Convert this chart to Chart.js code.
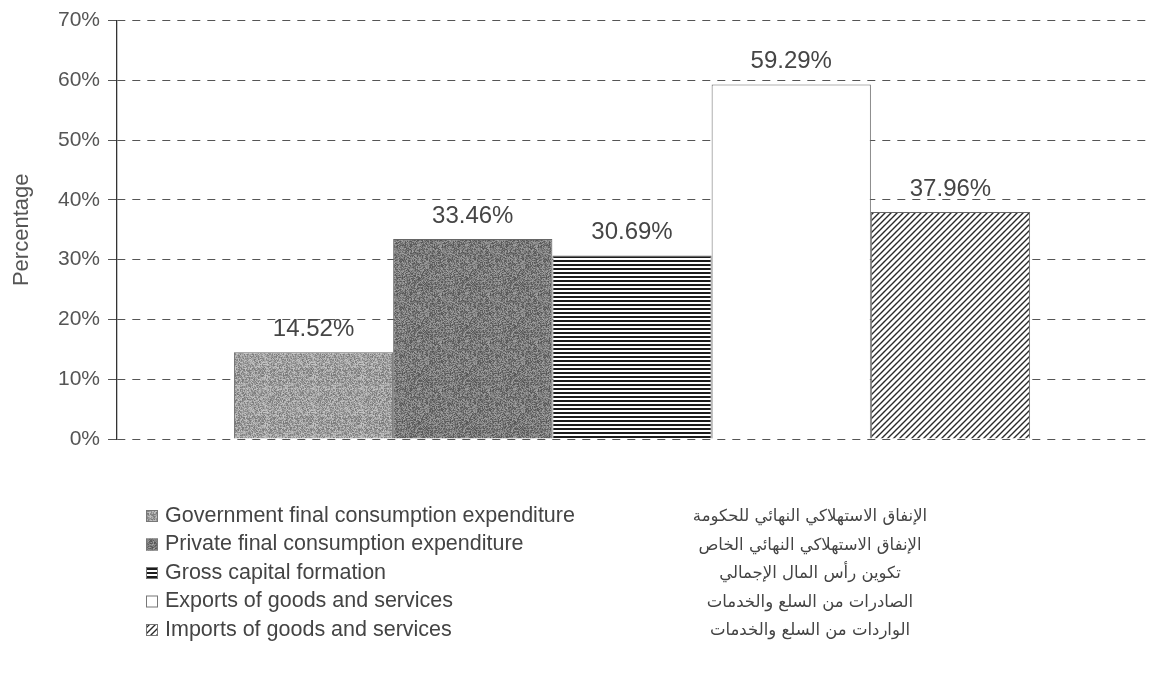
<!DOCTYPE html>
<html>
<head>
<meta charset="utf-8">
<script src="https://cdn.jsdelivr.net/npm/chart.js@4.4.1/dist/chart.umd.min.js"></script>
<style>
  html, body { margin: 0; padding: 0; background: #fff; }
  #wrap { width: 1149px; height: 679px; }
</style>
</head>
<body>
<div id="wrap"><canvas id="chart" width="1149" height="679"></canvas></div>
<script>
// one category, five series (shares of GDP)
const categories = [""];
const seriesNames = [
  "Government final consumption expenditure",
  "Private final consumption expenditure",
  "Gross capital formation",
  "Exports of goods and services",
  "Imports of goods and services"
];
const seriesNamesAr = [
  "الإنفاق الاستهلاكي النهائي للحكومة",
  "الإنفاق الاستهلاكي النهائي الخاص",
  "تكوين رأس المال الإجمالي",
  "الصادرات من السلع والخدمات",
  "الواردات من السلع والخدمات"
];
const seriesValues = [14.52, 33.46, 30.69, 59.29, 37.96];
const yTickValues = [0, 10, 20, 30, 40, 50, 60, 70];

const canvas = document.getElementById("chart");
const ctx = canvas.getContext("2d");

// ---- fill patterns ----
function tile(size, draw) {
  const c = document.createElement("canvas");
  c.width = c.height = size;
  draw(c.getContext("2d"), size);
  return ctx.createPattern(c, "repeat");
}
function grain(base, spread, seed) {
  return tile(48, (g, s) => {
    const img = g.createImageData(s, s);
    for (let i = 0; i < s * s; i++) {
      let h = Math.imul(i + seed * 7919, 2654435761) >>> 0;
      h ^= h >>> 15; h = Math.imul(h, 2246822519) >>> 0; h ^= h >>> 13;
      const v = base + ((h & 255) / 255 - 0.5) * spread;
      img.data[i * 4] = img.data[i * 4 + 1] = img.data[i * 4 + 2] = v;
      img.data[i * 4 + 3] = 255;
    }
    g.putImageData(img, 0, 0);
  });
}
const stripes = tile(4, (g, s) => {
  g.fillStyle = "#fff"; g.fillRect(0, 0, s, s);
  g.fillStyle = "#1c1c1c"; g.fillRect(0, 0, s, 2);
});
const hatch = tile(6, (g, s) => {
  g.fillStyle = "#fff"; g.fillRect(0, 0, s, s);
  g.strokeStyle = "#2a2a2a"; g.lineWidth = 1.4;
  g.beginPath();
  g.moveTo(0, s); g.lineTo(s, 0);
  g.moveTo(-1, 1); g.lineTo(1, -1);
  g.moveTo(s - 1, s + 1); g.lineTo(s + 1, s - 1);
  g.stroke();
});
const fills = [grain(158, 80, 1), grain(122, 80, 2), stripes, "#ffffff", hatch];

const valueLabels = {
  id: "valueLabels",
  afterDatasetsDraw(chart) {
    const c = chart.ctx;
    c.save();
    c.font = "24px 'Liberation Sans', Arial, sans-serif";
    c.fillStyle = "#454545";
    c.textAlign = "center";
    c.textBaseline = "middle";
    chart.data.datasets.forEach((ds, i) => {
      const bar = chart.getDatasetMeta(i).data[0];
      c.fillText(ds.data[0].toFixed(2) + "%", bar.x, bar.y - 23);
    });
    c.restore();
  }
};

const twoColumnLegend = {
  id: "twoColumnLegend",
  afterDraw(chart) {
    const c = chart.ctx;
    c.save();
    chart.data.datasets.forEach((ds, i) => {
      const y = 516 + i * 28.5;
      c.fillStyle = ds.backgroundColor;
      c.fillRect(146, y - 6, 12, 12);
      c.strokeStyle = "#777";
      c.lineWidth = 1;
      c.strokeRect(146.5, y - 5.5, 11, 11);
      c.fillStyle = "#444";
      c.textBaseline = "middle";
      c.textAlign = "left";
      c.direction = "ltr";
      c.font = "21.5px 'Liberation Sans', Arial, sans-serif";
      c.fillText(ds.label, 165, y);
      c.direction = "rtl";
      c.textAlign = "center";
      c.font = "16.5px 'DejaVu Sans', sans-serif";
      c.fillText(seriesNamesAr[i], 810, y + 1);
    });
    c.restore();
  }
};

new Chart(ctx, {
  type: "bar",
  data: {
    labels: categories,
    datasets: seriesNames.map((name, i) => ({
      label: name,
      data: [seriesValues[i]],
      backgroundColor: fills[i],
      borderColor: "#666",
      borderWidth: 1,
      barPercentage: 1,
      categoryPercentage: 0.773
    }))
  },
  options: {
    responsive: false,
    animation: false,
    devicePixelRatio: 1,
    layout: { padding: { top: 2, right: 2, bottom: 240, left: 0 } },
    plugins: { legend: { display: false }, tooltip: { enabled: false } },
    scales: {
      x: { display: false },
      y: {
        min: 0,
        max: 70,
        afterBuildTicks: (s) => { s.ticks = yTickValues.map(v => ({ value: v })); },
        afterFit: (s) => { s.width = 117; },
        ticks: {
          callback: (v) => v + "%",
          color: "#555",
          padding: 8,
          font: { family: "'Liberation Sans', Arial, sans-serif", size: 21 }
        },
        grid: {
          color: "#555",
          lineWidth: 1,
          tickLength: 9,
          tickColor: "#555",
          tickBorderDash: [8, 7]
        },
        border: { display: true, color: "#333", width: 1.3, dash: [8, 7] },
        title: {
          display: true,
          text: "Percentage",
          color: "#555",
          padding: { top: 9, bottom: 0 },
          font: { family: "'Liberation Sans', Arial, sans-serif", size: 22 }
        }
      }
    }
  },
  plugins: [valueLabels, twoColumnLegend]
});
</script>
</body>
</html>
